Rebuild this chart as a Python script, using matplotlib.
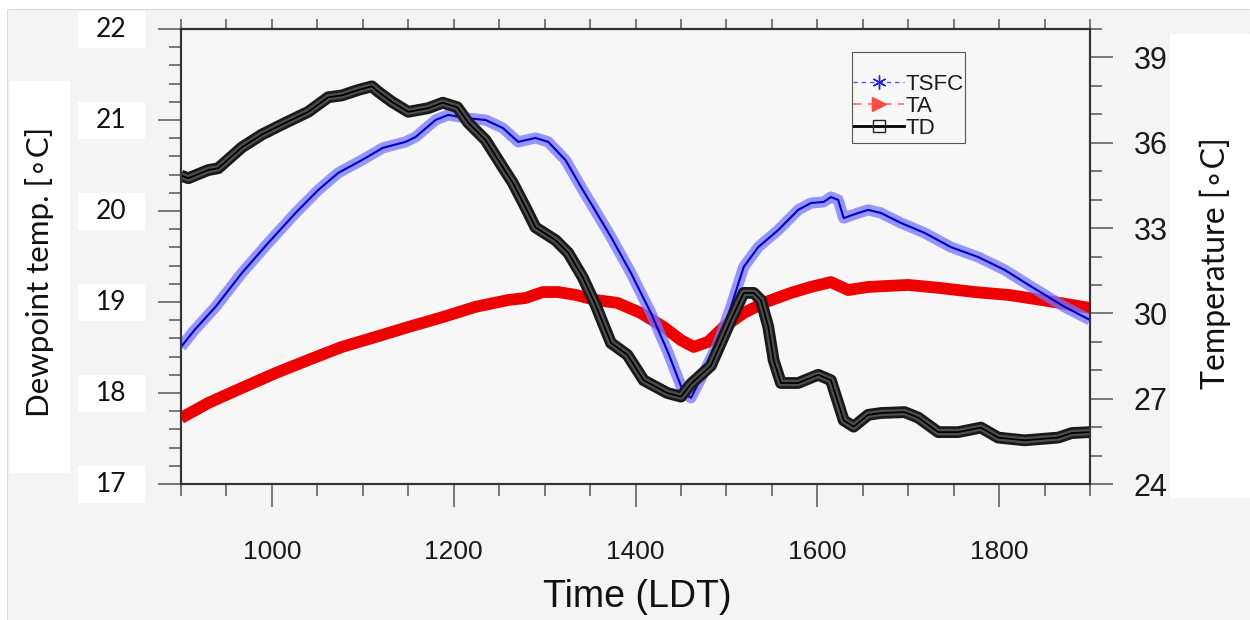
import numpy as np
import matplotlib.pyplot as plt
import matplotlib.transforms as mtransforms
from matplotlib.lines import Line2D
from matplotlib.patches import Rectangle
from matplotlib.ticker import MultipleLocator

# values (time in LDT)
td_time = [900, 908, 930, 941, 967, 989, 1015, 1040, 1062, 1077, 1095, 1110, 1117, 1132,
           1150, 1172, 1188, 1204, 1216, 1235, 1254, 1265, 1279, 1290, 1312, 1326, 1342,
           1356, 1373, 1391, 1409, 1435, 1450, 1461, 1483, 1505, 1519, 1530, 1538, 1546,
           1552, 1560, 1579, 1601, 1615, 1629, 1640, 1656, 1670, 1696, 1711, 1733, 1755,
           1780, 1799, 1828, 1865, 1880, 1900]
td = [20.39, 20.36, 20.45, 20.47, 20.70, 20.84, 20.97, 21.09, 21.25, 21.27, 21.33, 21.37,
      21.31, 21.20, 21.09, 21.13, 21.19, 21.14, 20.97, 20.78, 20.48, 20.31, 20.04, 19.82,
      19.68, 19.54, 19.27, 18.97, 18.55, 18.42, 18.14, 18.00, 17.96, 18.10, 18.30, 18.80,
      19.10, 19.10, 19.02, 18.73, 18.36, 18.11, 18.11, 18.20, 18.14, 17.70, 17.63, 17.76,
      17.78, 17.79, 17.73, 17.57, 17.57, 17.62, 17.51, 17.48, 17.51, 17.56, 17.57]

tsfc_time = [900, 915, 938, 967, 996, 1026, 1051, 1073, 1099, 1122, 1147, 1158, 1180, 1194,
             1213, 1235, 1254, 1271, 1290, 1304, 1323, 1342, 1356, 1373, 1395, 1417, 1436,
             1453, 1461, 1475, 1491, 1505, 1519, 1535, 1557, 1579, 1593, 1607, 1615, 1623,
             1629, 1645, 1656, 1670, 1692, 1718, 1747, 1777, 1806, 1836, 1872, 1900]
tsfc = [28.82, 29.42, 30.23, 31.42, 32.48, 33.53, 34.34, 34.94, 35.39, 35.82, 36.03, 36.20,
        36.80, 36.98, 36.87, 36.80, 36.52, 36.03, 36.17, 36.03, 35.39, 34.34, 33.60, 32.69,
        31.42, 30.01, 28.61, 27.20, 27.03, 27.90, 28.96, 30.23, 31.63, 32.33, 32.93, 33.64,
        33.88, 33.92, 34.09, 33.99, 33.35, 33.53, 33.64, 33.53, 33.18, 32.83, 32.33, 31.98,
        31.53, 30.93, 30.23, 29.77]

ta_time = [900, 930, 967, 1004, 1040, 1077, 1114, 1150, 1188, 1224, 1260, 1279, 1298, 1315,
           1334, 1356, 1380, 1406, 1431, 1450, 1464, 1480, 1497, 1519, 1541, 1571, 1593,
           1615, 1634, 1656, 1700, 1736, 1773, 1810, 1847, 1900]
ta = [26.32, 26.85, 27.38, 27.90, 28.36, 28.82, 29.17, 29.52, 29.87, 30.23, 30.47, 30.54,
      30.75, 30.75, 30.65, 30.47, 30.37, 30.01, 29.52, 29.06, 28.82, 29.00, 29.52, 30.01,
      30.37, 30.72, 30.93, 31.10, 30.82, 30.93, 31.00, 30.89, 30.75, 30.65, 30.47, 30.19]

dew_ticks = [17, 18, 19, 20, 21, 22]
series_names = ['TSFC', 'TA', 'TD']

W, H = 1250, 620
fig = plt.figure(figsize=(W / 100, H / 100), dpi=100, facecolor='white')

# gray page background and white label boxes
fig.add_artist(Rectangle((7 / W, 0), 1 - 7 / W, 1 - 9 / H, transform=fig.transFigure,
                         facecolor='#f4f4f4', edgecolor='#dcdcdc', lw=0.8, zorder=-3))
fig.add_artist(Rectangle((10 / W, 1 - 473 / H), 60 / W, 392 / H, transform=fig.transFigure,
                         facecolor='white', edgecolor='none', zorder=-2))
fig.add_artist(Rectangle((1170 / W, 1 - 498 / H), 80 / W, 464 / H, transform=fig.transFigure,
                         facecolor='white', edgecolor='none', zorder=-2))

ax = fig.add_axes([181 / W, 1 - 484 / H, 909 / W, 455 / H])
ax2 = ax.twinx()
ax.set_zorder(2)
ax.patch.set_visible(False)
ax2.set_zorder(1)
ax2.patch.set_visible(True)
ax2.patch.set_facecolor('#f7f7f7')

# temperature curves (right axis)
ax2.plot(ta_time, ta, color='#ee0000', lw=8.5, solid_joinstyle='round', solid_capstyle='butt')
ax2.plot(tsfc_time, tsfc, color='#7474ff', lw=8, alpha=0.75, solid_capstyle='butt')
ax2.plot(tsfc_time, tsfc, color='#0000c8', lw=1.5)

# dewpoint (left axis)
ax.plot(td_time, td, color='#1a1a1a', lw=8.5, solid_capstyle='butt')
ax.plot(td_time, td, color='#4e4e4e', lw=4.5, solid_capstyle='butt')
ax.plot(td_time, td, color='black', lw=1.3)

ax.set_xlim(900, 1900)
ax.set_ylim(17, 22)
ax2.set_ylim(24, 40)

ax.xaxis.set_major_locator(MultipleLocator(200))
ax.xaxis.set_minor_locator(MultipleLocator(50))
ax.yaxis.set_major_locator(MultipleLocator(1))
ax.yaxis.set_minor_locator(MultipleLocator(0.2))
ax2.yaxis.set_major_locator(MultipleLocator(3))
ax2.yaxis.set_minor_locator(MultipleLocator(1))

tick_col = '#555555'
for a in (ax, ax2):
    a.tick_params(which='major', direction='out', length=16.5, width=1.1, color=tick_col)
    a.tick_params(which='minor', direction='out', length=8.3, width=1.1, color=tick_col)
    for s in a.spines.values():
        s.set_linewidth(1.5)
        s.set_color('#333333')

ax.tick_params(axis='y', which='both', labelleft=False, right=False)
ax.tick_params(axis='x', labelsize=19, pad=24, labelcolor='#1a1a1a')
for lab in ax.get_xticklabels():
    lab.set_family('Liberation Sans')
ax2.tick_params(axis='y', labelsize=22, pad=15, labelcolor='#1a1a1a')
for lab in ax2.get_yticklabels():
    lab.set_family('Liberation Sans')

top = ax.secondary_xaxis('top')
top.xaxis.set_major_locator(MultipleLocator(50))
top.tick_params(direction='out', length=7, width=1.1, color=tick_col, labeltop=False)
top.spines['top'].set_linewidth(1.5)
top.spines['top'].set_color('#333333')

# left tick labels sit in white boxes
blend = mtransforms.blended_transform_factory(fig.transFigure, ax.transData)
box_h = 37 / 91
for v in dew_ticks:
    fig.add_artist(Rectangle((78 / W, v - box_h / 2), 67 / W, box_h, transform=blend,
                             facecolor='white', edgecolor='none', zorder=-1))
    ax.text(111 / W, v, str(v), transform=blend, ha='center', va='center',
            family='Lato', fontsize=19, color='#111111')

fig.text(637 / W, 1 - 597 / H, 'Time (LDT)', ha='center', va='center',
         family='Liberation Sans', fontsize=27, color='#111111')
fig.text(40 / W, 1 - 272 / H, 'Dewpoint temp. [\u2218C]', rotation=90, ha='center',
         va='center', family=['Lato', 'DejaVu Sans'], fontsize=22.5, color='#111111')
fig.text(1215 / W, 1 - 263 / H, 'Temperature [\u2218C]', rotation=90, ha='center',
         va='center', family=['Lato', 'DejaVu Sans'], fontsize=23, color='#111111')

handles = [
    Line2D([], [], color='#5050ff', lw=1, ls=(0, (3, 3)), marker=(6, 2, 0), ms=10,
           mec='#2020ee', mew=1),
    Line2D([], [], color='#ff6a6a', lw=1.2, ls=(0, (5, 4)), marker='>', ms=10,
           mfc='#ff4a4a', mec='#ff4a4a'),
    Line2D([], [], color='black', lw=2, marker='s', ms=9, mfc='none', mec='#222222'),
]
leg = ax.legend(handles, series_names, loc='upper left',
                bbox_to_anchor=(853 / W, 1 - 74 / H), bbox_transform=fig.transFigure,
                frameon=False, prop={'family': 'Liberation Sans', 'size': 16},
                handlelength=2.3, handletextpad=0.05, borderpad=0, labelspacing=0.05,
                borderaxespad=0, numpoints=1)
for t in leg.get_texts():
    t.set_color('#1a1a1a')
# legend frame
fig.add_artist(Rectangle((852 / W, 1 - 143 / H), 113 / W, 91 / H, transform=fig.transFigure,
                         facecolor='none', edgecolor='#555555', lw=0.8, zorder=5))

fig.savefig('out.png', dpi=100, facecolor=fig.get_facecolor())
